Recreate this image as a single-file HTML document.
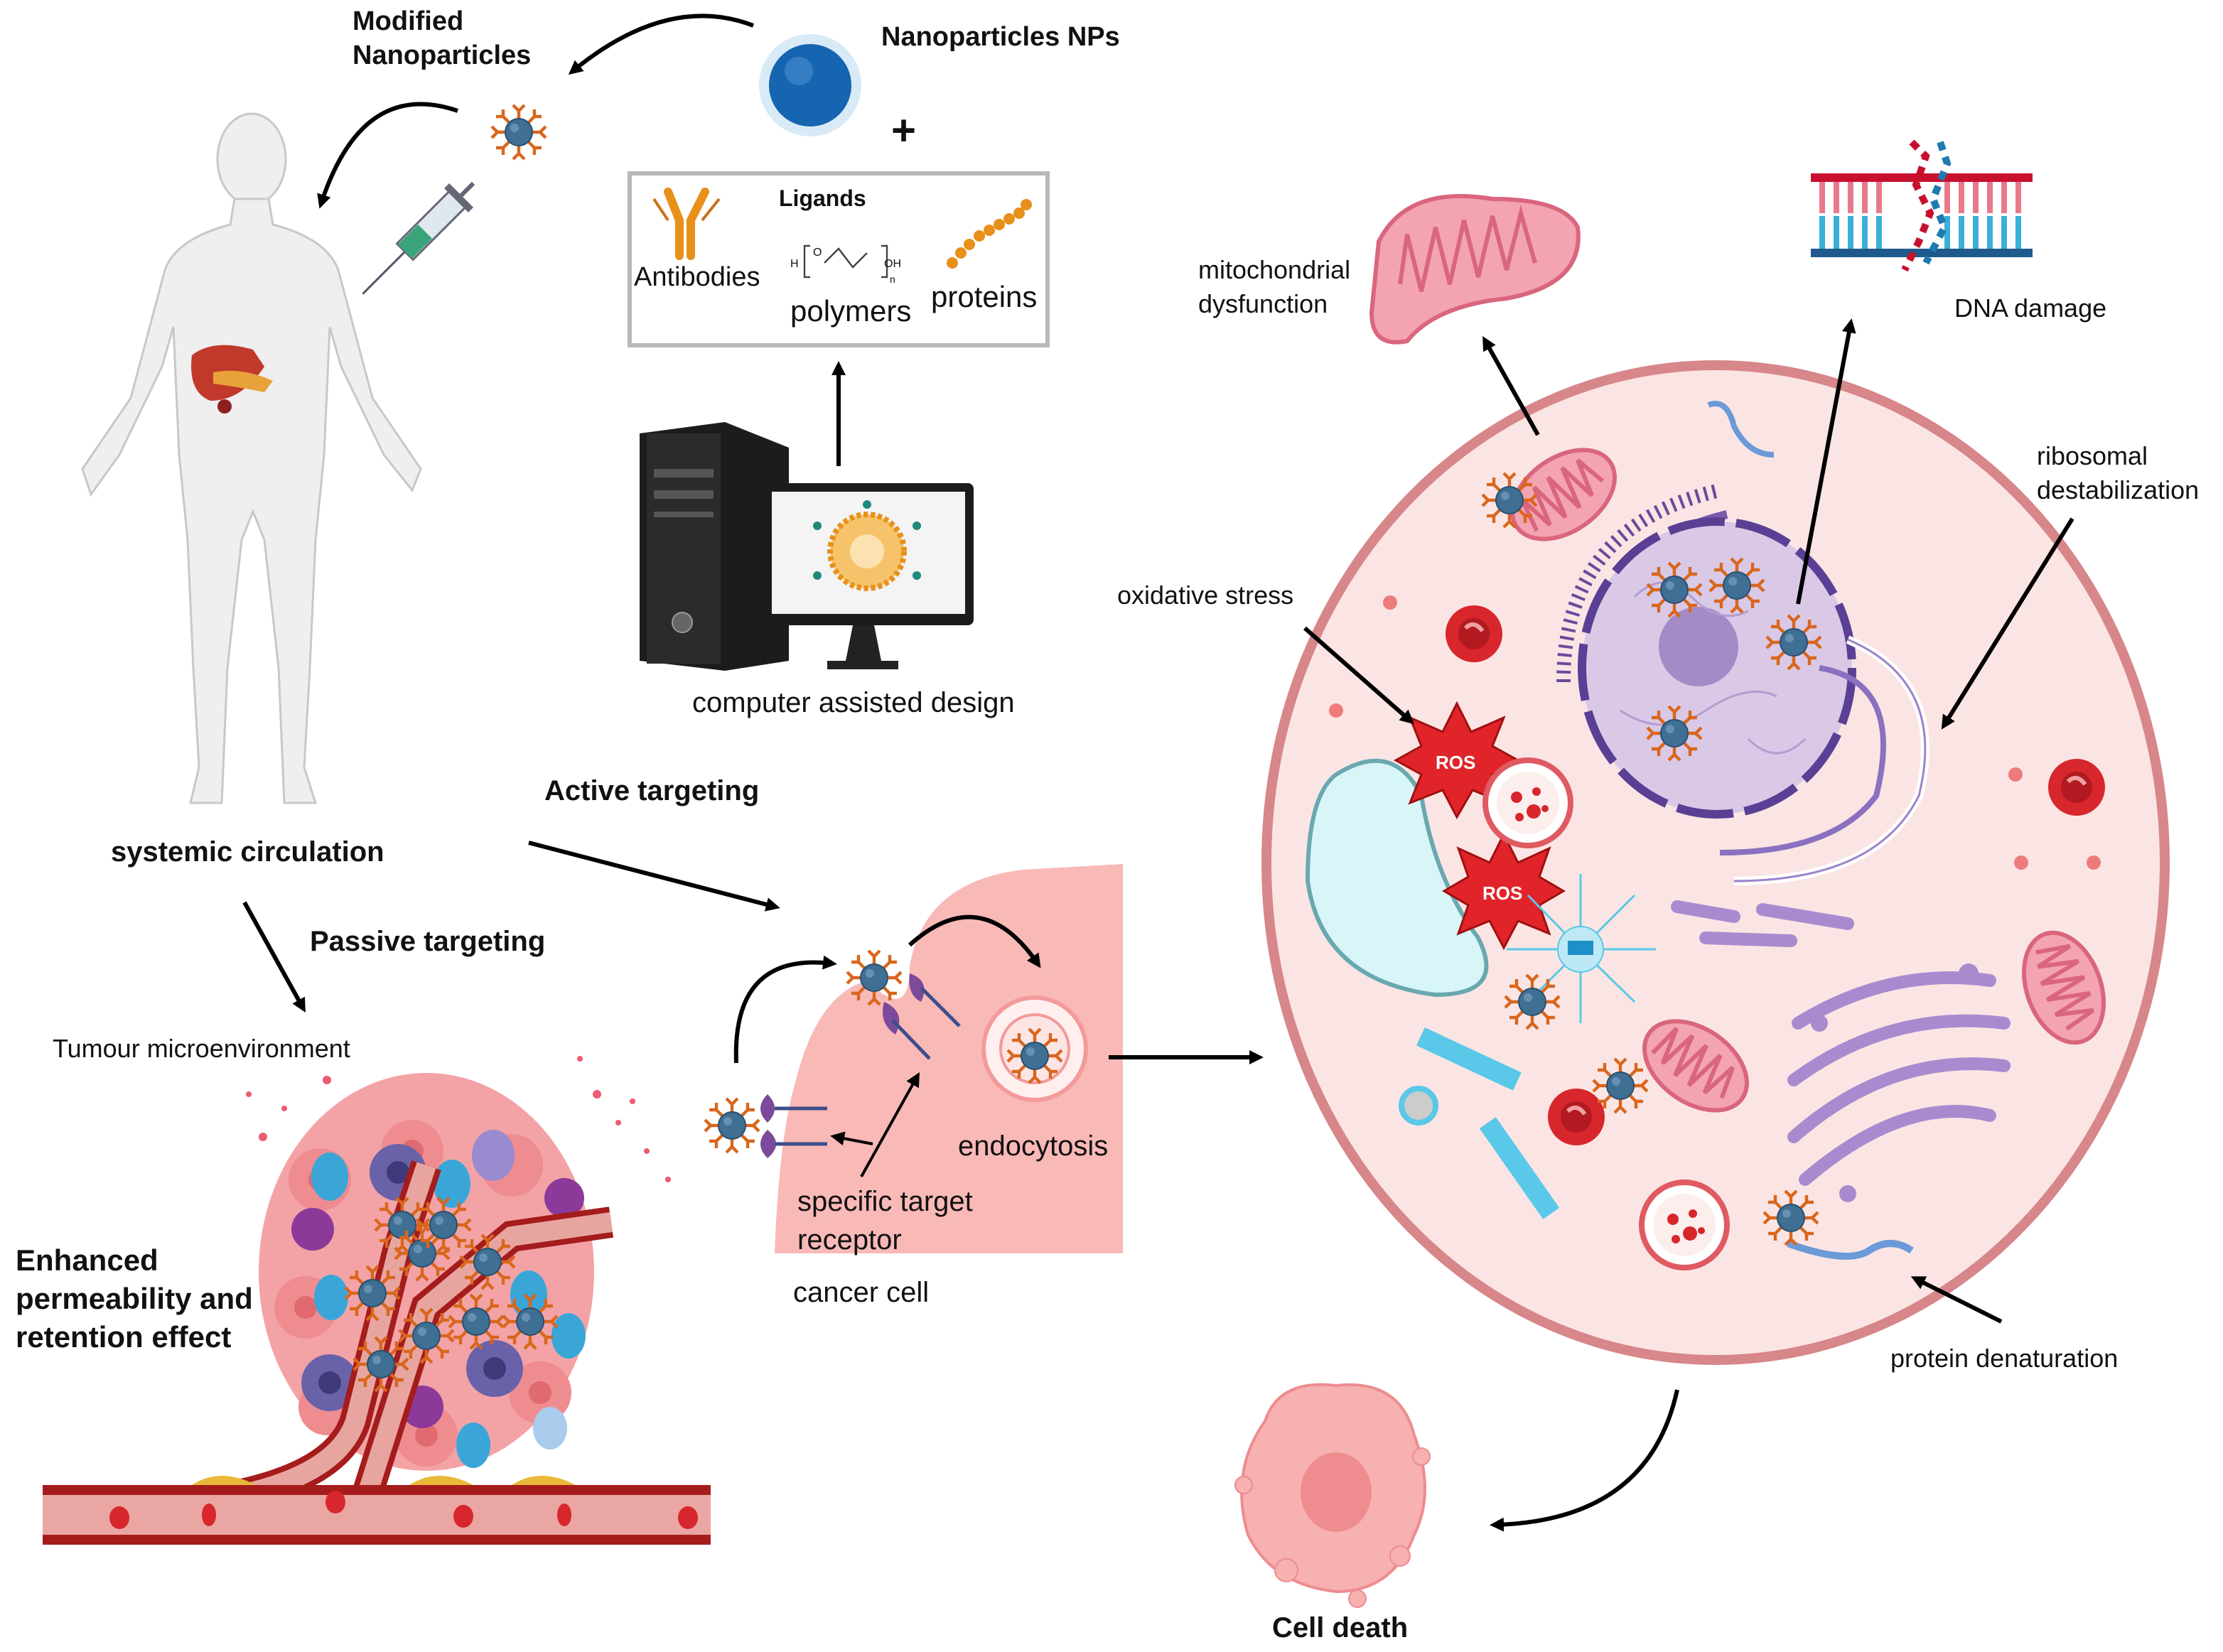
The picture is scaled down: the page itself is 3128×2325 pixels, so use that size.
<!DOCTYPE html>
<html><head><meta charset="utf-8"><style>
html,body{margin:0;padding:0;background:#fff}
svg{display:block}
text{font-family:"Liberation Sans",sans-serif;fill:#111}
.b{font-weight:bold}
</style></head><body>
<svg width="3128" height="2325" viewBox="0 0 1564 1162.5" xmlns="http://www.w3.org/2000/svg">
<defs>
<marker id="ah" markerWidth="10" markerHeight="10" refX="6" refY="5" orient="auto" markerUnits="userSpaceOnUse" viewBox="0 0 10 10"><path d="M0,0 L10,5 L0,10 z" fill="#000"/></marker>
<g id="np">
<g stroke="#d9661c" stroke-width="2.2" fill="none">
<path d="M0,0 L0,-15 M-4,-19 L0,-15 L4,-19"/>
<path d="M0,0 L0,15 M-4,19 L0,15 L4,19"/>
<path d="M0,0 L15,0 M19,-4 L15,0 L19,4"/>
<path d="M0,0 L-15,0 M-19,-4 L-15,0 L-19,4"/>
<path d="M0,0 L11,-11 M11,-16 L11,-11 L16,-11"/>
<path d="M0,0 L-11,11 M-11,16 L-11,11 L-16,11"/>
<path d="M0,0 L11,11 M16,11 L11,11 L11,16"/>
<path d="M0,0 L-11,-11 M-16,-11 L-11,-11 L-11,-16"/>
</g>
<circle r="9.5" fill="#3f6f93" stroke="#2b4f6e" stroke-width="1"/>
<circle cx="-3" cy="-3" r="3" fill="#7ea6c4" opacity=".6"/>
</g>
<g id="rbc"><ellipse rx="20" ry="20" fill="#d7262c"/><ellipse rx="11" ry="11" fill="#b01a20"/><path d="M-6,-4 Q0,-10 6,-2" stroke="#f2a0a0" stroke-width="3" fill="none"/></g>
<g id="mito"><ellipse rx="40" ry="26" fill="#f3a3b2" stroke="#d9667d" stroke-width="3"/><path d="M-30,10 L-26,-14 L-20,12 L-14,-16 L-8,14 L-2,-16 L4,14 L10,-16 L16,12 L22,-14 L28,8" stroke="#d9667d" stroke-width="3" fill="none"/></g>
<g id="lyso"><circle r="30" fill="#fff" stroke="#e05a62" stroke-width="4"/><circle r="22" fill="#fdeeee"/><circle cx="-8" cy="-4" r="4" fill="#d7262c"/><circle cx="6" cy="-8" r="3" fill="#d7262c"/><circle cx="4" cy="6" r="5" fill="#d7262c"/><circle cx="-6" cy="10" r="3" fill="#d7262c"/><circle cx="12" cy="4" r="2.5" fill="#d7262c"/></g>
</defs>

<!-- Human body -->
<g fill="#efefef" stroke="#c8c8c8" stroke-width="1.5">
<ellipse cx="177" cy="112" rx="24" ry="32"/>
<path d="M165,140 L189,140 L192,158 Q230,168 238,190 L262,280 L296,330 L290,345 L270,320 L240,258 L232,230 L228,320 L222,380 L218,470 L214,540 L222,565 L200,565 L196,470 L186,380 L178,360 L170,380 L160,470 L156,565 L134,565 L140,540 L136,470 L132,380 L126,320 L122,230 L114,258 L84,320 L64,348 L58,330 L92,280 L116,190 Q124,168 162,158 Z"/>
</g>
<g>
<path d="M135,250 Q150,238 178,246 L186,258 Q170,282 148,282 Q132,276 135,250Z" fill="#c0392b"/>
<path d="M150,262 Q170,258 192,268 L186,276 Q166,272 150,270Z" fill="#e8a23a"/>
<circle cx="158" cy="286" r="5" fill="#8e2020"/>
</g>
<!-- syringe -->
<g transform="translate(292,170) rotate(45)">
<rect x="-8" y="-42" width="16" height="52" fill="#dfe8ee" stroke="#667" stroke-width="1.5"/>
<rect x="-7" y="-10" width="14" height="20" fill="#3aa37a"/>
<rect x="-12" y="-46" width="24" height="5" fill="#667"/>
<line x1="0" y1="-46" x2="0" y2="-58" stroke="#667" stroke-width="3"/>
<line x1="0" y1="10" x2="0" y2="52" stroke="#556" stroke-width="1.5"/>
</g>

<!-- top texts -->
<text x="248" y="21" class="b" font-size="19">Modified</text>
<text x="248" y="45" class="b" font-size="19">Nanoparticles</text>
<text x="620" y="32" class="b" font-size="19">Nanoparticles NPs</text>
<text x="627" y="102" class="b" font-size="30">+</text>
<use href="#np" x="365" y="93"/>
<circle cx="570" cy="60" r="36" fill="#d9eaf7"/>
<circle cx="570" cy="60" r="29" fill="#1565b0"/>
<circle cx="562" cy="50" r="10" fill="#4b8fd0" opacity=".6"/>
<path d="M530,18 Q470,-5 403,50" stroke="#000" stroke-width="3" fill="none" marker-end="url(#ah)"/>
<path d="M322,78 Q255,55 226,143" stroke="#000" stroke-width="3" fill="none" marker-end="url(#ah)"/>

<!-- ligands box -->
<rect x="443" y="122" width="294" height="121" fill="#fff" stroke="#b8b8b8" stroke-width="3"/>
<text x="548" y="145" class="b" font-size="16">Ligands</text>
<g stroke="#e8901a" stroke-width="6" fill="none" stroke-linecap="round">
<path d="M470,135 L478,155 L478,180 M496,135 L486,155 L486,180"/>
</g>
<g stroke="#c9711a" stroke-width="2" fill="none"><path d="M460,140 L470,155 M506,140 L494,155"/></g>
<text x="446" y="201" font-size="19">Antibodies</text>
<text x="556" y="226" font-size="21">polymers</text>
<text x="655" y="216" font-size="21">proteins</text>
<path d="M570,173 L566,173 L566,195 L570,195 M580,185 L590,175 L600,188 L610,178 M620,173 L624,173 L624,195 L620,195" stroke="#444" stroke-width="1.2" fill="none"/>
<text x="556" y="188" font-size="8">H</text><text x="572" y="180" font-size="8">O</text><text x="622" y="188" font-size="8">OH</text><text x="626" y="199" font-size="7">n</text>
<g fill="#e8901a"><circle cx="670" cy="185" r="4"/><circle cx="676" cy="178" r="4"/><circle cx="682" cy="172" r="4"/><circle cx="689" cy="166" r="4"/><circle cx="696" cy="162" r="4"/><circle cx="703" cy="158" r="4"/><circle cx="710" cy="154" r="4"/><circle cx="717" cy="150" r="4"/><circle cx="722" cy="144" r="4"/></g>
<line x1="590" y1="328" x2="590" y2="258" stroke="#000" stroke-width="3" marker-end="url(#ah)"/>

<!-- computer -->
<path d="M450,305 L510,297 L555,315 L555,465 L510,472 L450,465Z" fill="#1c1c1c"/>
<rect x="455" y="305" width="52" height="162" fill="#2b2b2b"/>
<rect x="460" y="330" width="42" height="6" fill="#555"/><rect x="460" y="345" width="42" height="6" fill="#555"/><rect x="460" y="360" width="42" height="4" fill="#555"/>
<circle cx="480" cy="438" r="7" fill="#666" stroke="#999"/>
<rect x="537" y="340" width="148" height="100" rx="4" fill="#1c1c1c"/>
<rect x="543" y="346" width="136" height="86" fill="#f4f4f4"/>
<path d="M600,440 L615,440 L620,465 L595,465Z" fill="#222"/><rect x="582" y="465" width="50" height="6" fill="#222"/>
<circle cx="610" cy="388" r="26" fill="#f6c36a" stroke="#e8901a" stroke-width="4" stroke-dasharray="3 2"/>
<circle cx="610" cy="388" r="12" fill="#fbe2b0"/>
<g fill="#1f8a7a"><circle cx="575" cy="370" r="3"/><circle cx="645" cy="370" r="3"/><circle cx="575" cy="405" r="3"/><circle cx="645" cy="405" r="3"/><circle cx="610" cy="355" r="3"/></g>
<text x="487" y="501" font-size="20">computer assisted design</text>

<!-- left labels -->
<text x="78" y="606" class="b" font-size="20">systemic circulation</text>
<text x="383" y="563" class="b" font-size="20">Active targeting</text>
<text x="218" y="669" class="b" font-size="20">Passive targeting</text>
<line x1="372" y1="593" x2="545" y2="638" stroke="#000" stroke-width="3" marker-end="url(#ah)"/>
<line x1="172" y1="635" x2="213" y2="709" stroke="#000" stroke-width="3" marker-end="url(#ah)"/>
<text x="37" y="744" font-size="18">Tumour microenvironment</text>
<text x="11" y="894" class="b" font-size="21">Enhanced</text>
<text x="11" y="921" class="b" font-size="21">permeability and</text>
<text x="11" y="948" class="b" font-size="21">retention effect</text>

<!-- tumour -->
<g>
<ellipse cx="300" cy="895" rx="118" ry="140" fill="#f3a3a6"/>
<g fill="#ee8c90"><circle cx="225" cy="830" r="22"/><circle cx="290" cy="810" r="22"/><circle cx="360" cy="820" r="22"/><circle cx="215" cy="920" r="22"/><circle cx="380" cy="980" r="22"/><circle cx="300" cy="1010" r="22"/><circle cx="230" cy="990" r="20"/></g>
<g fill="#e06a70"><circle cx="225" cy="830" r="8"/><circle cx="290" cy="810" r="8"/><circle cx="215" cy="920" r="8"/><circle cx="380" cy="980" r="8"/><circle cx="300" cy="1010" r="8"/></g>
<g fill="#6a62a8"><circle cx="280" cy="825" r="20"/><circle cx="232" cy="973" r="20"/><circle cx="348" cy="963" r="20"/></g>
<g fill="#3f3a7a"><circle cx="280" cy="825" r="8"/><circle cx="232" cy="973" r="8"/><circle cx="348" cy="963" r="8"/></g>
<g fill="#8b3a9a"><circle cx="220" cy="865" r="15"/><circle cx="297" cy="990" r="15"/><circle cx="397" cy="843" r="14"/></g>
<g fill="#3aa6d8"><ellipse cx="232" cy="828" rx="13" ry="17"/><ellipse cx="318" cy="833" rx="13" ry="17"/><ellipse cx="233" cy="913" rx="12" ry="16"/><ellipse cx="372" cy="911" rx="13" ry="17"/><ellipse cx="333" cy="1017" rx="12" ry="16"/><ellipse cx="400" cy="940" rx="12" ry="16"/></g>
<ellipse cx="347" cy="813" rx="15" ry="18" fill="#9a8ad0"/>
<ellipse cx="387" cy="1005" rx="12" ry="15" fill="#a9cbec"/>
<path d="M60,1062 Q230,1060 250,1000 L280,880 L300,820 M255,1062 L300,920 L360,870 L430,860" stroke="#a51c1c" stroke-width="22" fill="none"/>
<path d="M60,1062 Q230,1060 250,1000 L280,880 L300,820 M255,1062 L300,920 L360,870 L430,860" stroke="#e8a5a0" stroke-width="14" fill="none"/>
<rect x="30" y="1045" width="470" height="42" fill="#a51c1c"/>
<rect x="30" y="1052" width="470" height="28" fill="#eaa6a2"/>
<g fill="#d7262c"><ellipse cx="84" cy="1068" rx="7" ry="8"/><ellipse cx="147" cy="1066" rx="5" ry="8"/><ellipse cx="236" cy="1057" rx="7" ry="8"/><ellipse cx="326" cy="1067" rx="7" ry="8"/><ellipse cx="397" cy="1066" rx="5" ry="8"/><ellipse cx="484" cy="1068" rx="7" ry="8"/></g>
<g fill="#e9b93a"><path d="M135,1045 Q155,1032 180,1045Z"/><path d="M288,1045 Q308,1032 333,1045Z"/><path d="M360,1045 Q380,1032 405,1045Z"/></g>
<use href="#np" x="283" y="862"/><use href="#np" x="297" y="882"/><use href="#np" x="312" y="862"/><use href="#np" x="343" y="888"/><use href="#np" x="262" y="910"/><use href="#np" x="300" y="940"/><use href="#np" x="335" y="930"/><use href="#np" x="373" y="930"/><use href="#np" x="268" y="960"/>
<g fill="#ee5a70"><circle cx="408" cy="745" r="2"/><circle cx="420" cy="770" r="3"/><circle cx="435" cy="790" r="2"/><circle cx="455" cy="810" r="2"/><circle cx="470" cy="830" r="2"/><circle cx="445" cy="775" r="2"/><circle cx="185" cy="800" r="3"/><circle cx="175" cy="770" r="2"/><circle cx="200" cy="780" r="2"/><circle cx="230" cy="760" r="3"/></g>
</g>

<!-- cancer cell -->
<path d="M790,608 L790,882 L545,882 Q548,800 560,760 Q575,700 610,690 Q640,720 640,680 Q650,620 720,612 Z" fill="#f9b9b7"/>
<circle cx="728" cy="738" r="36" fill="#fff0ef" stroke="#f39a9a" stroke-width="3"/>
<circle cx="728" cy="738" r="24" fill="#fde5e4" stroke="#f39a9a" stroke-width="2"/>
<use href="#np" x="728" y="743"/>
<use href="#np" x="615" y="688"/>
<use href="#np" x="515" y="792"/>
<g fill="#7b4a9a"><path d="M540,770 Q550,780 540,790 Q530,780 540,770Z"/><path d="M540,795 Q552,805 540,815 Q530,805 540,795Z"/><path d="M640,685 Q655,690 648,705 Q638,700 640,685Z"/><path d="M622,705 Q638,712 630,728 Q618,720 622,705Z"/></g>
<g stroke="#3e4e8a" stroke-width="2.5"><line x1="545" y1="780" x2="582" y2="780"/><line x1="545" y1="805" x2="582" y2="805"/><line x1="648" y1="695" x2="675" y2="722"/><line x1="628" y1="718" x2="654" y2="745"/></g>
<path d="M518,748 Q515,670 585,678" stroke="#000" stroke-width="3" fill="none" marker-end="url(#ah)"/>
<path d="M640,665 Q690,620 730,678" stroke="#000" stroke-width="3" fill="none" marker-end="url(#ah)"/>
<line x1="614" y1="805" x2="588" y2="800" stroke="#000" stroke-width="2" marker-end="url(#ah)"/>
<line x1="606" y1="828" x2="645" y2="758" stroke="#000" stroke-width="2" marker-end="url(#ah)"/>
<text x="674" y="813" font-size="20">endocytosis</text>
<text x="561" y="852" font-size="20">specific target</text>
<text x="561" y="879" font-size="20">receptor</text>
<text x="558" y="916" font-size="20">cancer cell</text>
<line x1="780" y1="744" x2="885" y2="744" stroke="#000" stroke-width="3" marker-end="url(#ah)"/>

<!-- big cell -->
<ellipse cx="1207" cy="607" rx="316" ry="350" fill="#fbe5e4" stroke="#d7868a" stroke-width="7"/>
<!-- ER -->
<path d="M1100,480 Q1100,370 1210,345" stroke="#6a4a9a" stroke-width="10" fill="none" stroke-dasharray="2 4"/>
<path d="M1115,490 Q1118,385 1215,362" stroke="#7b5aab" stroke-width="6" fill="none"/>
<!-- nucleus -->
<ellipse cx="1208" cy="470" rx="95" ry="103" fill="#d9c9e6" stroke="#5a3f94" stroke-width="6" stroke-dasharray="40 8"/>
<circle cx="1195" cy="455" r="28" fill="#a48ac6"/>
<path d="M1150,420 q20,-20 40,0 t40,10 M1140,500 q30,20 60,0 t50,-10 M1230,520 q20,20 40,0" stroke="#b39ccf" stroke-width="1.5" fill="none"/>
<path d="M1280,470 Q1340,480 1320,560 Q1290,600 1210,600" stroke="#8a70c0" stroke-width="4" fill="none"/>
<path d="M1300,450 Q1370,480 1350,560 Q1320,620 1220,620" stroke="#fff" stroke-width="6" fill="none"/>
<path d="M1300,450 Q1370,480 1350,560 Q1320,620 1220,620" stroke="#9b85cc" stroke-width="1.5" fill="none"/>
<use href="#np" x="1178" y="415"/><use href="#np" x="1222" y="412"/><use href="#np" x="1262" y="452"/><use href="#np" x="1178" y="516"/>
<!-- vacuole -->
<path d="M940,545 Q980,520 1000,560 Q1010,620 1040,660 Q1060,700 1010,700 Q930,690 920,620 Q920,560 940,545Z" fill="#d8f5f8" stroke="#6aa8b0" stroke-width="3"/>
<!-- ROS -->
<path d="M1025,495 L1035,515 L1058,505 L1050,525 L1068,535 L1050,545 L1058,565 L1036,556 L1025,575 L1015,556 L992,565 L1000,545 L982,535 L1000,525 L992,505 L1015,515Z" fill="#e0242a" stroke="#a01010" stroke-width="1.5"/>
<text x="1010" y="541" class="b" font-size="13" style="fill:#fff">ROS</text>
<path d="M1058,587 L1068,607 L1090,597 L1083,617 L1100,627 L1083,637 L1090,657 L1068,648 L1058,667 L1048,648 L1026,657 L1033,637 L1016,627 L1033,617 L1026,597 L1048,607Z" fill="#e0242a" stroke="#a01010" stroke-width="1.5"/>
<text x="1043" y="633" class="b" font-size="13" style="fill:#fff">ROS</text>
<use href="#lyso" x="1075" y="565"/>
<use href="#lyso" x="1185" y="862"/>
<use href="#rbc" x="1037" y="446"/><use href="#rbc" x="1461" y="554"/><use href="#rbc" x="1109" y="786"/>
<use href="#mito" transform="translate(1100,348) rotate(-35)"/>
<use href="#mito" transform="translate(1193,750) rotate(35)"/>
<use href="#mito" transform="translate(1452,695) rotate(70)"/>
<!-- golgi -->
<g stroke="#a88bcf" stroke-width="9" fill="none" stroke-linecap="round">
<path d="M1265,720 Q1330,680 1400,690"/><path d="M1262,760 Q1330,710 1410,720"/><path d="M1262,800 Q1330,740 1410,750"/><path d="M1270,830 Q1340,770 1400,785"/>
<path d="M1180,638 L1220,645"/><path d="M1200,660 L1260,662"/><path d="M1240,640 L1300,650"/>
</g>
<circle cx="1385" cy="685" r="7" fill="#a88bcf"/><circle cx="1300" cy="840" r="6" fill="#a88bcf"/><circle cx="1280" cy="720" r="6" fill="#a88bcf"/>
<!-- centrosome -->
<g stroke="#5ac8e8" stroke-width="1.5"><path d="M1112,668 L1112,615 M1112,668 L1112,720 M1112,668 L1060,668 M1112,668 L1165,668 M1112,668 L1075,630 M1112,668 L1150,630 M1112,668 L1075,705 M1112,668 L1150,705"/></g>
<circle cx="1112" cy="668" r="16" fill="#bde9f5" stroke="#5ac8e8"/>
<rect x="1103" y="662" width="18" height="10" fill="#1e90c8"/>
<!-- cytoskeleton -->
<rect x="996" y="738" width="75" height="14" fill="#5ac8e8" transform="rotate(25 1033 745)"/>
<rect x="1030" y="815" width="78" height="14" fill="#5ac8e8" transform="rotate(55 1069 822)"/>
<circle cx="998" cy="778" r="12" fill="#ccc" stroke="#5ac8e8" stroke-width="4"/>
<path d="M1202,285 Q1215,280 1220,300 Q1230,320 1248,320" stroke="#6a9ad8" stroke-width="4" fill="none"/>
<path d="M1258,875 Q1300,890 1315,880 Q1330,870 1345,880" stroke="#6a9ad8" stroke-width="5" fill="none"/>
<use href="#np" x="1062" y="352"/><use href="#np" x="1078" y="705"/><use href="#np" x="1140" y="764"/><use href="#np" x="1260" y="857"/>
<g fill="#ee7b7b"><circle cx="978" cy="424" r="5"/><circle cx="940" cy="500" r="5"/><circle cx="1418" cy="545" r="5"/><circle cx="1422" cy="607" r="5"/><circle cx="1473" cy="607" r="5"/></g>

<!-- top right -->
<path d="M970,170 Q990,130 1050,140 Q1100,140 1110,160 Q1115,200 1060,210 Q1010,215 990,240 Q965,245 965,220Z" fill="#f3a3b2" stroke="#d9667d" stroke-width="3"/>
<path d="M985,200 L990,165 L1000,205 L1010,160 L1020,200 L1030,155 L1040,195 L1050,152 L1060,190 L1070,150 L1080,185" stroke="#d9667d" stroke-width="3" fill="none"/>
<text x="843" y="196" font-size="18">mitochondrial</text>
<text x="843" y="220" font-size="18">dysfunction</text>
<line x1="1082" y1="306" x2="1045" y2="240" stroke="#000" stroke-width="3" marker-end="url(#ah)"/>
<g>
<rect x="1274" y="122" width="156" height="6" fill="#c8102e"/>
<rect x="1274" y="175" width="156" height="6" fill="#1f5a8c"/>
<g stroke="#e8788a" stroke-width="4"><line x1="1282" y1="128" x2="1282" y2="150"/><line x1="1292" y1="128" x2="1292" y2="150"/><line x1="1302" y1="128" x2="1302" y2="150"/><line x1="1312" y1="128" x2="1312" y2="150"/><line x1="1322" y1="128" x2="1322" y2="150"/><line x1="1370" y1="128" x2="1370" y2="150"/><line x1="1380" y1="128" x2="1380" y2="150"/><line x1="1390" y1="128" x2="1390" y2="150"/><line x1="1400" y1="128" x2="1400" y2="150"/><line x1="1410" y1="128" x2="1410" y2="150"/><line x1="1420" y1="128" x2="1420" y2="150"/></g>
<g stroke="#3ab0d8" stroke-width="4"><line x1="1282" y1="152" x2="1282" y2="175"/><line x1="1292" y1="152" x2="1292" y2="175"/><line x1="1302" y1="152" x2="1302" y2="175"/><line x1="1312" y1="152" x2="1312" y2="175"/><line x1="1322" y1="152" x2="1322" y2="175"/><line x1="1370" y1="152" x2="1370" y2="175"/><line x1="1380" y1="152" x2="1380" y2="175"/><line x1="1390" y1="152" x2="1390" y2="175"/><line x1="1400" y1="152" x2="1400" y2="175"/><line x1="1410" y1="152" x2="1410" y2="175"/><line x1="1420" y1="152" x2="1420" y2="175"/></g>
<path d="M1345,100 L1355,110 L1348,130 L1358,150 L1350,170 L1340,190" stroke="#c8102e" stroke-width="5" fill="none" stroke-dasharray="6 5"/>
<path d="M1365,100 L1370,115 L1360,140 L1368,160 L1355,185" stroke="#1f7ab0" stroke-width="5" fill="none" stroke-dasharray="6 5"/>
</g>
<text x="1375" y="223" font-size="18">DNA damage</text>
<line x1="1265" y1="425" x2="1302" y2="228" stroke="#000" stroke-width="3" marker-end="url(#ah)"/>
<text x="1433" y="327" font-size="18">ribosomal</text>
<text x="1433" y="351" font-size="18">destabilization</text>
<line x1="1458" y1="365" x2="1368" y2="510" stroke="#000" stroke-width="3" marker-end="url(#ah)"/>
<text x="786" y="425" font-size="18">oxidative stress</text>
<line x1="918" y1="442" x2="992" y2="507" stroke="#000" stroke-width="3" marker-end="url(#ah)"/>
<text x="1330" y="962" font-size="18">protein denaturation</text>
<line x1="1408" y1="930" x2="1348" y2="900" stroke="#000" stroke-width="3" marker-end="url(#ah)"/>
<path d="M1180,978 Q1160,1070 1052,1073" stroke="#000" stroke-width="3" fill="none" marker-end="url(#ah)"/>

<!-- cell death -->
<path d="M890,1000 Q900,970 940,975 Q985,970 995,1010 Q1010,1050 995,1080 Q980,1120 940,1120 Q895,1115 878,1080 Q865,1035 890,1000Z" fill="#f6b1b0" stroke="#ee8c90" stroke-width="2"/>
<ellipse cx="940" cy="1050" rx="25" ry="28" fill="#ee8c90"/>
<g fill="#f6b1b0" stroke="#ee8c90"><circle cx="905" cy="1105" r="8"/><circle cx="875" cy="1045" r="6"/><circle cx="1000" cy="1025" r="6"/><circle cx="985" cy="1095" r="7"/><circle cx="955" cy="1125" r="6"/></g>
<text x="895" y="1152" class="b" font-size="20">Cell death</text>
</svg>
</body></html>
